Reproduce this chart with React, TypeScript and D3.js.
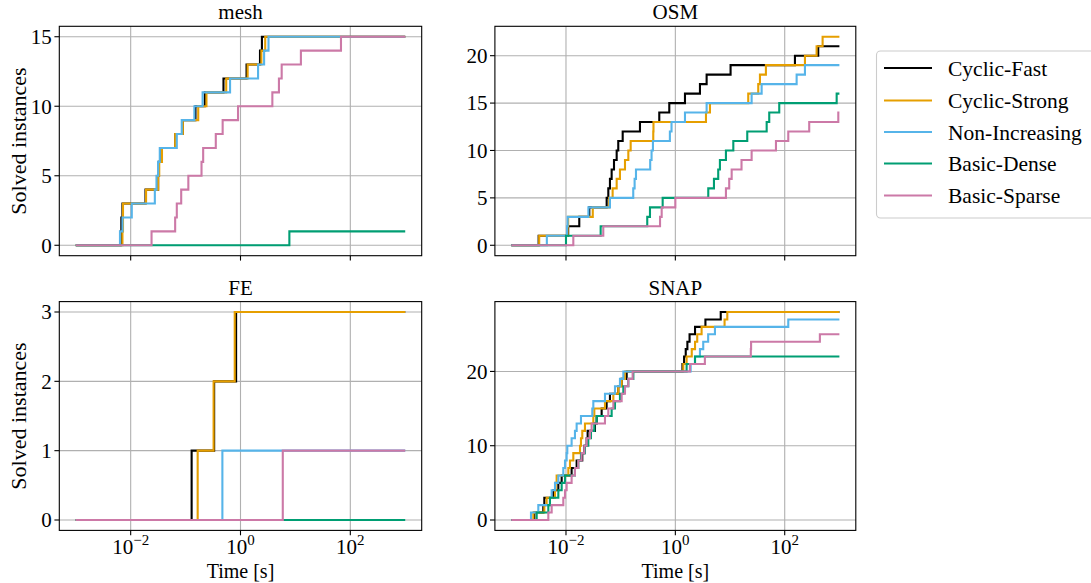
import React from 'react';
import * as d3 from 'd3';

const seriesNames = ['Cyclic-Fast', 'Cyclic-Strong', 'Non-Increasing', 'Basic-Dense', 'Basic-Sparse'];
const seriesColors = ['#000000', '#E69F00', '#56B4E9', '#009E73', '#CC79A7'];

// Solve times, as log10(seconds), one entry per solved instance
const meshCyclicFast = [-2.18, -2.17, -2.15, -1.73, -1.5, -1.49, -1.44, -1.19, -1.05, -0.82, -0.65, -0.31, 0.11, 0.355, 0.39];
const meshCyclicStrong = [-2.15, -2.14, -2.14, -1.72, -1.5, -1.48, -1.43, -1.19, -1.05, -0.77, -0.62, -0.26, 0.13, 0.38, 0.45];
const meshNonIncreasing = [-2.195, -2.15, -1.98, -1.56, -1.53, -1.5, -1.47, -1.16, -1.07, -0.84, -0.69, -0.19, 0.32, 0.43, 0.51];
const meshBasicDense = [0.89];
const meshBasicSparse = [-1.62, -1.19, -1.16, -1.08, -0.95, -0.71, -0.68, -0.45, -0.325, -0.045, 0.58, 0.7, 0.75, 1.1, 1.83];

const osmCyclicFast = [-2.5, -1.96, -1.757, -1.574, -1.256, -1.226, -1.196, -1.165, -1.122, -1.073, -1.044, -0.963, -0.647, -0.294, -0.111, 0.176, 0.45, 0.572, 1.01, 2.187, 2.613];
const osmCyclicStrong = [-2.49, -1.97, -1.96, -1.51, -1.21, -1.147, -1.073, -1.013, -0.921, -0.86, -0.817, -0.404, -0.4, 0.56, 0.633, 1.333, 1.516, 1.547, 1.656, 2.37, 2.583, 2.693];
const osmNonIncreasing = [-2.35, -1.98, -1.97, -1.59, -1.196, -0.77, -0.745, -0.72, -0.46, -0.435, -0.41, -0.1, -0.07, 0.176, 0.572, 1.395, 1.578, 2.218, 2.37];
const osmBasicDense = [-2.0, -1.366, -0.514, -0.464, -0.232, 0.602, 0.706, 0.784, 0.815, 0.925, 1.06, 1.315, 1.67, 1.717, 1.9, 2.95];
const osmBasicSparse = [-1.866, -1.318, -0.28, -0.25, 0.0, 0.925, 0.985, 1.03, 1.21, 1.395, 1.84, 2.065, 2.448, 2.98];

const feCyclicFast = [-0.89, -0.48, -0.08];
const feCyclicStrong = [-0.78, -0.49, -0.105];
const feNonIncreasing = [-0.33];
const feBasicDense: number[] = [];
const feBasicSparse = [0.77];

const snapCyclicFast = [-2.579, -2.415, -2.396, -2.232, -2.14, -2.079, -1.897, -1.805, -1.702, -1.665, -1.622, -1.604, -1.47, -1.439, -1.348, -1.257, -1.196, -1.043, -0.982, -0.89, 0.13, 0.16, 0.19, 0.22, 0.26, 0.36, 0.55, 0.83];
const snapCyclicStrong = [-2.597, -2.396, -2.354, -2.201, -2.189, -2.171, -1.957, -1.927, -1.866, -1.744, -1.726, -1.702, -1.653, -1.5, -1.482, -1.287, -1.134, -1.043, -0.982, -0.921, 0.145, 0.206, 0.3, 0.36, 0.4, 0.48, 0.9, 0.95];
const snapNonIncreasing = [-2.64, -2.506, -2.293, -2.262, -2.201, -2.14, -2.049, -2.018, -1.988, -1.976, -1.897, -1.836, -1.805, -1.726, -1.519, -1.5, -1.287, -1.104, -1.013, -0.951, 0.28, 0.358, 0.45, 0.51, 0.6, 0.724, 2.065];
const snapBasicDense = [-2.536, -2.323, -2.293, -2.14, -2.079, -2.018, -1.836, -1.775, -1.726, -1.653, -1.592, -1.543, -1.482, -1.439, -1.165, -1.104, -1.013, -0.951, -0.86, -0.768, 0.206, 0.36];
const snapBasicSparse = [-2.323, -2.262, -2.049, -2.018, -1.988, -1.897, -1.836, -1.775, -1.714, -1.665, -1.622, -1.561, -1.531, -1.287, -1.226, -1.134, -0.982, -0.921, -0.86, -0.781, 0.267, 0.54, 1.38, 1.385, 2.643];

const xTickExps = [-2, 0, 2];
const timeStart = 1e-3;
const timeEnd = 1e3;

const FONT = "'Liberation Serif', 'Times New Roman', serif";

type Panel = {
  title: string;
  yMax: number;
  yTicks: number[];
  series: number[][];
  left: number; right: number; top: number; bottom: number;
  xLabels: boolean;
  yLabel: boolean;
};

const panels: Panel[] = [
  { title: 'mesh', yMax: 15, yTicks: [0, 5, 10, 15], series: [meshCyclicFast, meshCyclicStrong, meshNonIncreasing, meshBasicDense, meshBasicSparse], left: 59.3, right: 421.7, top: 26.3, bottom: 255.7, xLabels: false, yLabel: true },
  { title: 'OSM', yMax: 22, yTicks: [0, 5, 10, 15, 20], series: [osmCyclicFast, osmCyclicStrong, osmNonIncreasing, osmBasicDense, osmBasicSparse], left: 494.9, right: 855.8, top: 26.3, bottom: 255.7, xLabels: false, yLabel: false },
  { title: 'FE', yMax: 3, yTicks: [0, 1, 2, 3], series: [feCyclicFast, feCyclicStrong, feNonIncreasing, feBasicDense, feBasicSparse], left: 59.3, right: 421.7, top: 301.6, bottom: 530.4, xLabels: true, yLabel: true },
  { title: 'SNAP', yMax: 28, yTicks: [0, 10, 20], series: [snapCyclicFast, snapCyclicStrong, snapNonIncreasing, snapBasicDense, snapBasicSparse], left: 494.9, right: 855.8, top: 301.6, bottom: 530.4, xLabels: true, yLabel: false },
];

function PanelView({ p }: { p: Panel }) {
  const x = d3.scaleLog().domain([Math.pow(10, -3.3), Math.pow(10, 3.3)]).range([p.left, p.right]);
  const y = d3.scaleLinear().domain([-0.05 * p.yMax, 1.05 * p.yMax]).range([p.bottom, p.top]);
  const line = d3.line<[number, number]>().x(d => x(d[0])).y(d => y(d[1])).curve(d3.curveStepAfter);
  const cx = (p.left + p.right) / 2;
  const cy = (p.top + p.bottom) / 2;
  const tickLen = 4.9;
  return (
    <g>
      {xTickExps.map(e => (
        <line key={'gx' + e} x1={x(Math.pow(10, e))} x2={x(Math.pow(10, e))} y1={p.top} y2={p.bottom} stroke="#b0b0b0" strokeWidth={1.1} />
      ))}
      {p.yTicks.map(t => (
        <line key={'gy' + t} x1={p.left} x2={p.right} y1={y(t)} y2={y(t)} stroke="#b0b0b0" strokeWidth={1.1} />
      ))}
      {p.series.map((s, i) => {
        const pts: [number, number][] = [[timeStart, 0], ...s.map((lt, k) => [Math.pow(10, lt), k + 1] as [number, number]), [timeEnd, s.length]];
        return <path key={i} d={line(pts) || ''} fill="none" stroke={seriesColors[i]} strokeWidth={2.1} />;
      })}
      <rect x={p.left} y={p.top} width={p.right - p.left} height={p.bottom - p.top} fill="none" stroke="#000" strokeWidth={1.1} />
      {xTickExps.map(e => (
        <line key={'tx' + e} x1={x(Math.pow(10, e))} x2={x(Math.pow(10, e))} y1={p.bottom} y2={p.bottom + tickLen} stroke="#000" strokeWidth={1.1} />
      ))}
      {p.xLabels && xTickExps.map(e => (
        <text key={'lx' + e} x={x(Math.pow(10, e))} y={554} textAnchor="middle" fontFamily={FONT} fontSize={21}>
          10<tspan dy={-9} fontSize={15}>{e < 0 ? '\u2212' + Math.abs(e) : String(e)}</tspan>
        </text>
      ))}
      {p.yTicks.map(t => (
        <g key={'ty' + t}>
          <line x1={p.left - tickLen} x2={p.left} y1={y(t)} y2={y(t)} stroke="#000" strokeWidth={1.1} />
          <text x={p.left - 7.5} y={y(t)} dy="0.35em" textAnchor="end" fontFamily={FONT} fontSize={21}>{t}</text>
        </g>
      ))}
      <text x={cx} y={p.top - 7} textAnchor="middle" fontFamily={FONT} fontSize={21}>{p.title}</text>
      {p.xLabels && (
        <text x={cx} y={577.5} textAnchor="middle" fontFamily={FONT} fontSize={20}>Time [s]</text>
      )}
      {p.yLabel && (
        <text transform={`translate(25.5,${cy}) rotate(-90)`} textAnchor="middle" fontFamily={FONT} fontSize={22}>Solved instances</text>
      )}
    </g>
  );
}

function Legend() {
  const x0 = 876.5;
  const y0 = 51;
  const rowY = [68, 100.5, 132, 163.5, 195.5];
  return (
    <g>
      <rect x={x0} y={y0} width={240} height={167} rx={4} ry={4} fill="#fff" stroke="#cccccc" strokeWidth={1.1} />
      {seriesNames.map((n, i) => (
        <g key={n}>
          <line x1={884} x2={932} y1={rowY[i]} y2={rowY[i]} stroke={seriesColors[i]} strokeWidth={2.1} />
          <text x={948} y={rowY[i]} dy="0.35em" fontFamily={FONT} fontSize={21.5}>{n}</text>
        </g>
      ))}
    </g>
  );
}

export default function App() {
  return (
    <svg width={1091} height={583} style={{ position: 'absolute', left: 0, top: 0, background: '#fff' }}>
      <rect x={0} y={0} width={1091} height={583} fill="#fff" />
      {panels.map(p => <PanelView key={p.title} p={p} />)}
      <Legend />
    </svg>
  );
}
